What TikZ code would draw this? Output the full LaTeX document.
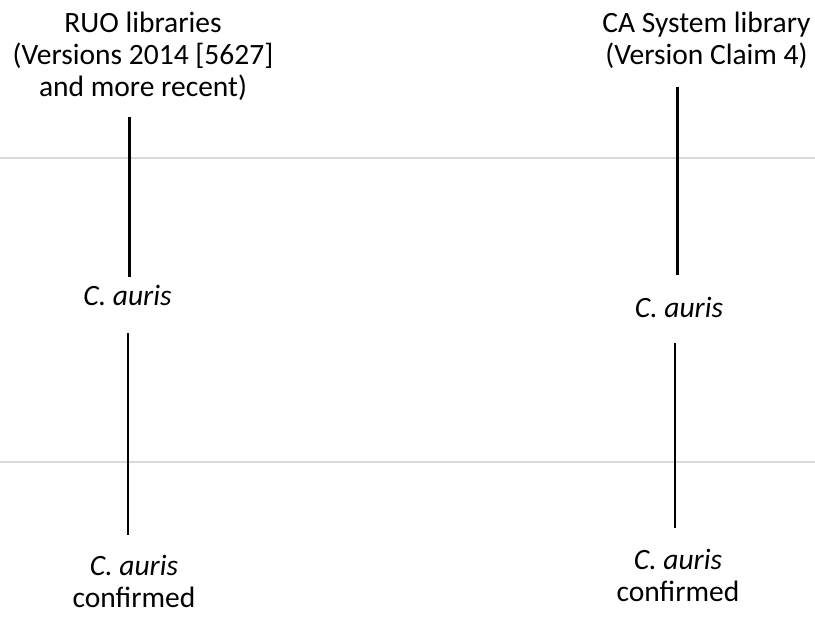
\documentclass[tikz,border=0pt]{standalone}
\usepackage{fontspec}
\setmainfont{Carlito}
\begin{document}
\begin{tikzpicture}[x=1pt,y=-1pt,
  lbl/.style={font=\fontsize{29.5}{32}\selectfont, inner sep=0pt, align=center},
  thickline/.style={line width=3pt, black},
  thinline/.style={line width=1.1pt, black},
  rule/.style={line width=1.5pt, color=black!15}]
\useasboundingbox (0,0) rectangle (815,617);

% light horizontal rules across the page
\draw[rule] (0,158) -- (815,158);
\draw[rule] (0,462) -- (815,462);

% library headings
\node[lbl] (ruo) at (143,56) {RUO libraries\\(Versions 2014 [5627]\\and more recent)};
\node[lbl] (ca) at (706.5,40) {CA System library\\(Version Claim 4)};

% identifications
\node[lbl, anchor=base] (a1) at (127.5,306) {\itshape C. auris};
\node[lbl, anchor=base] (a2) at (679,318) {\itshape C. auris};

% confirmations
\node[lbl, anchor=north] (b1) at (134,555) {\textit{C. auris}\\confirmed};
\node[lbl, anchor=north] (b2) at (678,549) {\textit{C. auris}\\confirmed};

% connectors
\draw[thickline, shorten <=17pt, shorten >=8.5pt]
  ([xshift=1.5pt]a1.north |- ruo.south) -- ([xshift=1.5pt]a1.north);
\draw[thickline, shorten <=19pt, shorten >=22.5pt]
  ([xshift=-2pt]a2.north |- ca.south) -- ([xshift=-2pt]a2.north);
\draw[thinline, shorten <=27pt, shorten >=20pt]
  ([xshift=0.5pt]a1.south) -- ([xshift=0.5pt]a1.south |- b1.north);
\draw[thinline, shorten <=25pt, shorten >=21pt]
  ([xshift=-4pt]a2.south) -- ([xshift=-4pt]a2.south |- b2.north);
\end{tikzpicture}
\end{document}
